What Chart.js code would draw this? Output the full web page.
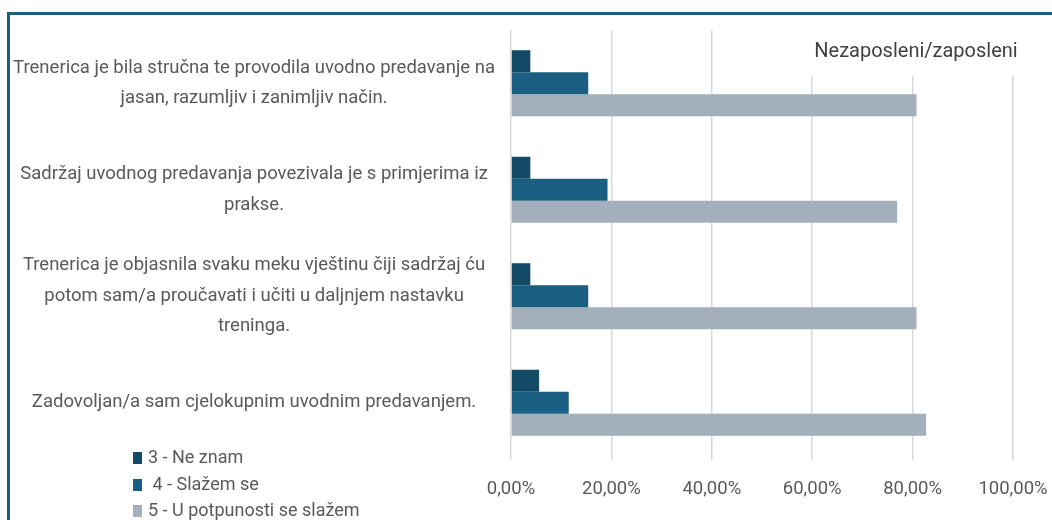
<!DOCTYPE html>
<html>
<head>
<meta charset="utf-8">
<script src="https://cdn.jsdelivr.net/npm/chart.js@4.4.1/dist/chart.umd.min.js"></script>
<style>
  html, body { margin: 0; padding: 0; background: #fff; }
  #wrap { position: relative; width: 1052px; height: 520px; overflow: hidden; }
  #frame { position: absolute; left: 7px; top: 12px; right: -10px; bottom: -10px;
           border-top: 3px solid #1b5f82; border-left: 3px solid #1b5f82; }
  canvas { position: absolute; left: 0; top: 0; }
  #legend { position: absolute; left: 133px; top: 445px; font-family: Roboto, sans-serif;
            font-size: 18px; color: #595959; }
  #legend div { height: 26.5px; line-height: 24px; white-space: nowrap; }
  #legend span { display: inline-block; width: 9px; height: 12px; margin-right: 6px; vertical-align: -1px; }
</style>
</head>
<body>
<div id="wrap">
  <div id="frame"></div>
  <canvas id="chart" width="1052" height="520"></canvas>
  <div id="legend"></div>
</div>
<script>
// pitanja (kategorije), po retcima kako su prelomljena na slici
const categories = [
    ["Trenerica je bila stručna te provodila uvodno predavanje na", "jasan, razumljiv i zanimljiv način."],
    ["Sadržaj uvodnog predavanja povezivala je s primjerima iz", "prakse."],
    ["Trenerica je objasnila svaku meku vještinu čiji sadržaj ću", "potom sam/a proučavati i učiti u daljnjem nastavku", "treninga."],
    ["Zadovoljan/a sam cjelokupnim uvodnim predavanjem."]
];

const seriesNames = ["3 - Ne znam", " 4 - Slažem se", "5 - U potpunosti se slažem"];
const neZnam = [3.85, 3.85, 3.85, 5.6];
const slazemSe = [15.38, 19.23, 15.38, 11.5];
const potpuno = [80.77, 76.92, 80.77, 82.7];
const colors = ['#134b66', '#1a5f81', '#a3afba'];

const chartTitle = "Nezaposleni/zaposleni";
const xTicks = [0, 20, 40, 60, 80, 100];

// naslov preko mreže (bijela podloga skriva gornji dio linija kao u originalu)
const titleOverlay = {
    id: 'titleOverlay',
    afterDraw(chart) {
        const ctx = chart.ctx;
        ctx.save();
        ctx.fillStyle = '#fff';
        ctx.fillRect(790, 28, 262, 48);
        ctx.fillStyle = '#404040';
        ctx.font = '20px Roboto, sans-serif';
        ctx.textAlign = 'center';
        ctx.textBaseline = 'middle';
        ctx.fillText(chartTitle, 916, 52);
        ctx.restore();
    }
};

const ctx = document.getElementById('chart').getContext('2d');
const chart = new Chart(ctx, {
    type: 'bar',
    data: {
        labels: categories,
        datasets: [
            { label: seriesNames[0], data: neZnam, backgroundColor: colors[0] },
            { label: seriesNames[1], data: slazemSe, backgroundColor: colors[1] },
            { label: seriesNames[2], data: potpuno, backgroundColor: colors[2] }
        ]
    },
    options: {
        indexAxis: 'y',
        responsive: false,
        animation: false,
        layout: { padding: { left: 6, top: 30, right: 39, bottom: 0 } },
        datasets: { bar: { categoryPercentage: 0.62, barPercentage: 1.0 } },
        plugins: {
            legend: { display: false },
            tooltip: { enabled: false }
        },
        scales: {
            x: {
                min: 0,
                max: 100,
                afterBuildTicks: (scale) => { scale.ticks = xTicks.map(v => ({ value: v })); },
                afterFit: (scale) => {
                    scale.height = 64;
                    scale.paddingLeft = 0;
                    scale.paddingRight = 0;
                },
                border: { display: false },
                grid: { color: '#d9d9d9', lineWidth: 1.5, drawTicks: true, tickLength: 4 },
                ticks: {
                    padding: 18,
                    color: '#595959',
                    font: { family: 'Roboto, sans-serif', size: 18.5 },
                    callback: (v) => v.toFixed(2).replace('.', ',') + '%'
                }
            },
            y: {
                afterFit: (scale) => { scale.width = 505; },
                border: { display: false },
                grid: { display: false },
                ticks: {
                    crossAlign: 'center',
                    padding: 8,
                    color: '#595959',
                    font: { family: 'Roboto, sans-serif', size: 18.5, lineHeight: 1.65 }
                }
            }
        }
    },
    plugins: [titleOverlay]
});

// legenda ispod oznaka kategorija
const legendBox = document.getElementById('legend');
chart.data.datasets.forEach(ds => {
    const row = document.createElement('div');
    const sw = document.createElement('span');
    sw.style.background = ds.backgroundColor;
    row.appendChild(sw);
    row.appendChild(document.createTextNode(ds.label));
    legendBox.appendChild(row);
});
</script>
</body>
</html>
